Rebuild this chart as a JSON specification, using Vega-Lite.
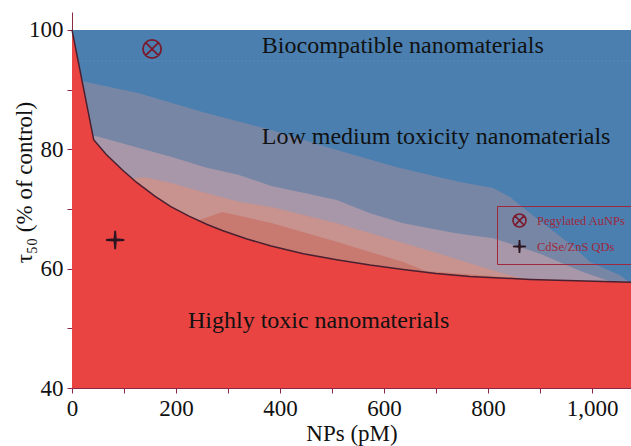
{
  "$schema": "https://vega.github.io/schema/vega-lite/v6.json",
  "width": 559,
  "height": 376,
  "autosize": {"type": "none"},
  "padding": {"left": 72, "top": 12, "right": 0, "bottom": 58},
  "background": "white",
  "datasets": {
    "bands": [
      {"band": "blue", "x": 0, "top": 100},
      {"band": "blue", "x": 1075, "top": 100},
      {"band": "gray", "x": 0, "top": 92},
      {"band": "gray", "x": 25, "top": 91.3},
      {"band": "gray", "x": 129, "top": 89.4},
      {"band": "gray", "x": 256, "top": 86.1},
      {"band": "gray", "x": 385, "top": 83.2},
      {"band": "gray", "x": 496, "top": 80.2},
      {"band": "gray", "x": 625, "top": 77},
      {"band": "gray", "x": 746, "top": 74.5},
      {"band": "gray", "x": 810, "top": 73.5},
      {"band": "gray", "x": 842, "top": 72},
      {"band": "gray", "x": 900, "top": 68},
      {"band": "gray", "x": 960, "top": 64},
      {"band": "gray", "x": 996, "top": 61.1},
      {"band": "gray", "x": 1054, "top": 58.9},
      {"band": "gray", "x": 1075, "top": 57.5},
      {"band": "mauve", "x": 0, "top": 83},
      {"band": "mauve", "x": 51, "top": 82.1},
      {"band": "mauve", "x": 129, "top": 80.2},
      {"band": "mauve", "x": 192, "top": 78.7},
      {"band": "mauve", "x": 256, "top": 77},
      {"band": "mauve", "x": 321, "top": 75.7},
      {"band": "mauve", "x": 385, "top": 73.8},
      {"band": "mauve", "x": 445, "top": 72.7},
      {"band": "mauve", "x": 509, "top": 71.5},
      {"band": "mauve", "x": 573, "top": 69.3},
      {"band": "mauve", "x": 637, "top": 67.6},
      {"band": "mauve", "x": 733, "top": 66},
      {"band": "mauve", "x": 765, "top": 65.6},
      {"band": "mauve", "x": 810, "top": 65.1},
      {"band": "mauve", "x": 900, "top": 62.5},
      {"band": "mauve", "x": 980, "top": 59.5},
      {"band": "mauve", "x": 1030, "top": 58},
      {"band": "mauve", "x": 1075, "top": 57},
      {"band": "pink", "x": 100, "top": 75},
      {"band": "pink", "x": 140, "top": 75.3},
      {"band": "pink", "x": 192, "top": 74.3},
      {"band": "pink", "x": 256, "top": 72.7},
      {"band": "pink", "x": 321, "top": 71.2},
      {"band": "pink", "x": 385, "top": 70.3},
      {"band": "pink", "x": 509, "top": 67.6},
      {"band": "pink", "x": 637, "top": 64.3},
      {"band": "pink", "x": 702, "top": 62.6},
      {"band": "pink", "x": 765, "top": 60.9},
      {"band": "pink", "x": 830, "top": 59.2},
      {"band": "pink", "x": 880, "top": 58},
      {"band": "pink", "x": 1075, "top": 57},
      {"band": "salmon", "x": 240, "top": 68},
      {"band": "salmon", "x": 289, "top": 69.5},
      {"band": "salmon", "x": 385, "top": 67.6},
      {"band": "salmon", "x": 509, "top": 64.5},
      {"band": "salmon", "x": 573, "top": 62.8},
      {"band": "salmon", "x": 637, "top": 61.1},
      {"band": "salmon", "x": 680, "top": 59.6},
      {"band": "salmon", "x": 1075, "top": 57}
    ],
    "curve": [
      {"x": 0, "y": 100},
      {"x": 41.7, "y": 81.6},
      {"x": 65, "y": 79.2},
      {"x": 96, "y": 76.6},
      {"x": 125, "y": 74.4},
      {"x": 160, "y": 72.1},
      {"x": 190, "y": 70.4},
      {"x": 225, "y": 68.8},
      {"x": 260, "y": 67.4},
      {"x": 289, "y": 66.4},
      {"x": 335, "y": 65.0},
      {"x": 383, "y": 63.8},
      {"x": 445, "y": 62.5},
      {"x": 509, "y": 61.5},
      {"x": 573, "y": 60.6},
      {"x": 637, "y": 59.85},
      {"x": 700, "y": 59.2},
      {"x": 765, "y": 58.7},
      {"x": 881, "y": 58.2},
      {"x": 1075, "y": 57.7}
    ],
    "labels": [
      {"label": "Biocompatible nanomaterials", "x": 365, "y": 97.3},
      {"label": "Low medium toxicity nanomaterials", "x": 365, "y": 82.1},
      {"label": "Highly toxic nanomaterials", "x": 223, "y": 51.2}
    ],
    "points": [
      {"nm": "Pegylated AuNPs", "x": 154, "y": 96.8},
      {"nm": "CdSe/ZnS QDs", "x": 83, "y": 64.8}
    ]
  },
  "layer": [
    {
      "data": {"name": "bands"},
      "transform": [{"filter": "datum.band == 'blue'"}],
      "mark": {"type": "area", "color": "#4a7fb0", "opacity": 1},
      "encoding": {
        "x": {"field": "x", "type": "quantitative", "scale": {"domain": [0, 1075], "nice": false, "zero": false},
          "axis": {"title": "NPs (pM)", "values": [0, 100, 200, 300, 400, 500, 600, 700, 800, 900, 1000],
            "labelExpr": "datum.value % 200 == 0 ? format(datum.value, ',') : ''",
            "labelPadding": 4, "titlePadding": 2, "labelFlush": false,
            "grid": false, "domainColor": "#8c2a45", "tickColor": "#8c2a45", "tickSize": 5,
            "labelFont": "Liberation Serif", "labelFontSize": 23, "labelColor": "#111111",
            "titleFont": "Liberation Serif", "titleFontSize": 23, "titleFontWeight": "normal", "titleColor": "#111111"}},
        "y": {"field": "top", "type": "quantitative", "scale": {"domain": [40, 103], "nice": false, "zero": false},
          "axis": {"title": "τ₅₀ (% of control)", "values": [40, 50, 60, 70, 80, 90, 100],
            "labelExpr": "datum.value % 20 == 0 ? datum.value : ''", "labelPadding": 4,
            "titleX": -36, "titleY": 170, "titleAngle": -90, "titleAlign": "center", "titleBaseline": "bottom",
            "grid": false, "domainColor": "#8c2a45", "tickColor": "#8c2a45", "tickSize": 5,
            "labelFont": "Liberation Serif", "labelFontSize": 23, "labelColor": "#111111",
            "titleFont": "Liberation Serif", "titleFontSize": 23, "titleFontWeight": "normal", "titleColor": "#111111"}},
        "y2": {"datum": 40}
      }
    },
    {
      "data": {"values": [{"y": 94.8}]},
      "mark": {"type": "rule", "color": "#78a6d2", "strokeDash": [2, 2], "strokeWidth": 1, "opacity": 0.4},
      "encoding": {"y": {"field": "y", "type": "quantitative"}}
    },
    {
      "data": {"name": "bands"},
      "transform": [{"filter": "datum.band == 'gray'"}],
      "mark": {"type": "area", "color": "#7886a6", "opacity": 1},
      "encoding": {"x": {"field": "x", "type": "quantitative"}, "y": {"field": "top", "type": "quantitative"}, "y2": {"datum": 40}}
    },
    {
      "data": {"name": "bands"},
      "transform": [{"filter": "datum.band == 'mauve'"}],
      "mark": {"type": "area", "color": "#a797a9", "opacity": 1},
      "encoding": {"x": {"field": "x", "type": "quantitative"}, "y": {"field": "top", "type": "quantitative"}, "y2": {"datum": 40}}
    },
    {
      "data": {"name": "bands"},
      "transform": [{"filter": "datum.band == 'pink'"}],
      "mark": {"type": "area", "color": "#c8928e", "opacity": 1},
      "encoding": {"x": {"field": "x", "type": "quantitative"}, "y": {"field": "top", "type": "quantitative"}, "y2": {"datum": 40}}
    },
    {
      "data": {"name": "bands"},
      "transform": [{"filter": "datum.band == 'salmon'"}],
      "mark": {"type": "area", "color": "#c97a70", "opacity": 1},
      "encoding": {"x": {"field": "x", "type": "quantitative"}, "y": {"field": "top", "type": "quantitative"}, "y2": {"datum": 40}}
    },
    {
      "data": {"name": "curve"},
      "mark": {"type": "area", "color": "#e94442", "opacity": 1},
      "encoding": {"x": {"field": "x", "type": "quantitative"}, "y": {"field": "y", "type": "quantitative"}, "y2": {"datum": 40}}
    },
    {
      "data": {"name": "curve"},
      "mark": {"type": "line", "color": "#4a2030", "strokeWidth": 1.5},
      "encoding": {"x": {"field": "x", "type": "quantitative"}, "y": {"field": "y", "type": "quantitative"}}
    },
    {
      "data": {"name": "labels"},
      "mark": {"type": "text", "align": "left", "baseline": "middle", "font": "Liberation Serif", "fontSize": 24, "color": "#111111"},
      "encoding": {"x": {"field": "x", "type": "quantitative"}, "y": {"field": "y", "type": "quantitative"}, "text": {"field": "label"}}
    },
    {
      "data": {"name": "points"},
      "mark": {"type": "point", "size": 330, "strokeWidth": 1.8, "opacity": 1, "filled": false},
      "encoding": {
        "x": {"field": "x", "type": "quantitative"},
        "y": {"field": "y", "type": "quantitative"},
        "shape": {"field": "nm", "type": "nominal", "title": null,
          "scale": {"domain": ["Pegylated AuNPs", "CdSe/ZnS QDs"],
            "range": ["M -1 0 A 1 1 0 1 1 1 0 A 1 1 0 1 1 -1 0 Z M -0.7 -0.7 L 0.7 0.7 M -0.7 0.7 L 0.7 -0.7",
                      "M 0 -1 L 0.08 -0.08 L 1 0 L 0.08 0.08 L 0 1 L -0.08 0.08 L -1 0 L -0.08 -0.08 Z"]}},
        "stroke": {"field": "nm", "type": "nominal", "title": null,
          "scale": {"domain": ["Pegylated AuNPs", "CdSe/ZnS QDs"], "range": ["#7a1a2c", "#2a1520"]}},
        "fill": {"field": "nm", "type": "nominal", "title": null,
          "scale": {"domain": ["Pegylated AuNPs", "CdSe/ZnS QDs"], "range": ["rgba(0,0,0,0)", "#2a1520"]}}
      }
    }
  ],
  "config": {
    "view": {"stroke": null},
    "legend": {
      "orient": "none",
      "legendX": 425,
      "legendY": 194,
      "strokeColor": "#a0283c",
      "padding": 7,
      "symbolSize": 170,
      "symbolStrokeWidth": 1.6,
      "labelFont": "Liberation Serif",
      "labelFontSize": 12.5,
      "labelColor": "#a0283c",
      "rowPadding": 5,
      "symbolOffset": 8,
      "labelOffset": 10
    }
  }
}
